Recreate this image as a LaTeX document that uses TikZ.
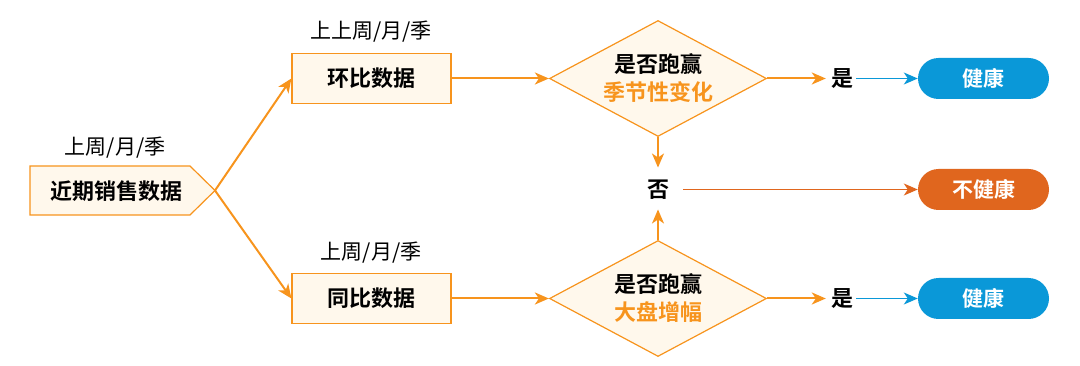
\documentclass[tikz,border=0pt]{standalone}
\usepackage{fontspec}
\setmainfont{Noto Sans CJK SC}[BoldFont={Noto Sans CJK SC Bold}]
\usetikzlibrary{shapes.geometric,shapes.symbols,arrows.meta}
\definecolor{org}{HTML}{F7941D}
\definecolor{cream}{HTML}{FFF8EC}
\definecolor{blu}{HTML}{0A98D8}
\definecolor{redo}{HTML}{E0661E}
\tikzset{
  x=1pt,y=-1pt,
  txt/.style={font=\fontsize{21}{24}\selectfont, inner sep=0pt},
  btxt/.style={font=\fontsize{22}{28}\selectfont\bfseries, inner sep=0pt},
  databox/.style={draw=org, fill=cream, line width=1.2pt, minimum width=159pt, minimum height=50pt, inner sep=0pt, font=\fontsize{22}{28}\selectfont\bfseries},
  decide/.style={diamond, draw=org, fill=cream, line width=1.2pt, minimum width=217pt, minimum height=116pt, inner sep=0pt, aspect=1.87, align=center, font=\fontsize{22}{28}\selectfont\bfseries},
  pill/.style={rounded corners=20.5pt, minimum width=131pt, minimum height=41pt, inner sep=0pt, text=white, font=\fontsize{21}{27}\selectfont\bfseries},
  oarr/.style={draw=org, line width=2pt, -{Stealth[length=14pt,width=12pt,inset=4pt]}},
  oarrt/.style={draw=org, line width=1.5pt, -{Stealth[length=14pt,width=12pt,inset=4pt]}},
  barr/.style={draw=blu, line width=1.4pt, -{Stealth[length=14pt,width=12pt,inset=4pt]}},
  rarr/.style={draw=redo, line width=1.4pt, -{Stealth[length=14pt,width=12pt,inset=4pt]}},
}
\begin{document}
\begin{tikzpicture}
\useasboundingbox (0,0) rectangle (1080,366);
% source pentagon
\draw[org, fill=cream, line width=1.2pt] (30,166) -- (190,166) -- (215,190.5) -- (190,215) -- (30,215) -- cycle;
\coordinate (tip) at (215,190.5);
\node[btxt] (src) at (116,191) {近期销售数据};
\node[txt] (lsrc) at (115,148) {上周/月/季};
% boxes
\node[databox] (hb) at (371.5,78.5) {环比数据};
\node[txt] (lhb) at (371,32) {上上周/月/季};
\node[databox] (tb) at (371.5,298.5) {同比数据};
\node[txt] (ltb) at (371,253) {上周/月/季};
% diamonds
\node[decide] (d1) at (658,78.5) {是否跑赢\\\textcolor{org}{季节性变化}};
\node[decide] (d2) at (658,298.5) {是否跑赢\\\textcolor{org}{大盘增幅}};
% no
\node[btxt] (no) at (658,189.5) {否};
% yes labels
\node[btxt] (y1) at (842,78.5) {是};
\node[btxt] (y2) at (842,298.5) {是};
% results
\node[pill, fill=blu] (h1) at (983.5,78.5) {健康};
\node[pill, fill=redo] (uh) at (983.5,189.5) {不健康};
\node[pill, fill=blu] (h2) at (983.5,298.5) {健康};
% arrows
\draw[oarr] (tip) -- (hb.west);
\draw[oarr] (tip) -- (tb.west);
\draw[oarr] (hb.east) -- (d1.west);
\draw[oarr] (tb.east) -- (d2.west);
\draw[oarrt] (d1.south) -- ([yshift=12pt]no.north);
\draw[oarrt] (d2.north) -- ([yshift=-10pt]no.south);
\draw[oarr] (d1.east) -- ([xshift=-5pt]y1.west);
\draw[oarr] (d2.east) -- ([xshift=-5pt]y2.west);
\draw[barr] ([xshift=3pt]y1.east) -- (h1.west);
\draw[barr] ([xshift=3pt]y2.east) -- (h2.west);
\draw[rarr] ([xshift=14pt]no.east) -- (uh.west);
\end{tikzpicture}
\end{document}
